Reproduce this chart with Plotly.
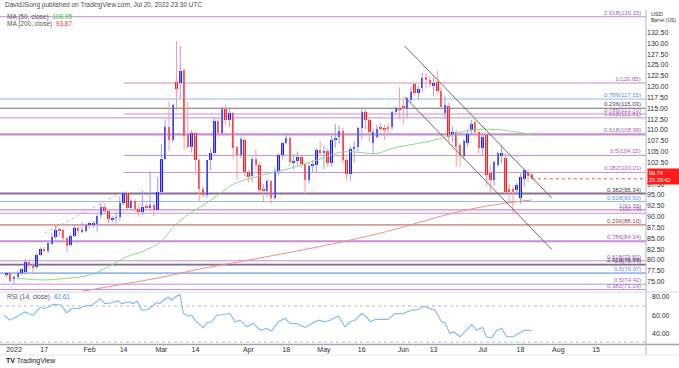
import plotly.graph_objects as go

# ---------------- data ----------------
opens = [76.6, 76.9, 75.7, 76.1, 77.0, 77.2, 79.6, 78.9, 78.3, 81.2,
         82.6, 82.1, 83.8, 85.4, 87.0, 86.9, 85.1, 83.4, 85.6, 87.3,
         86.6, 86.8, 88.2, 88.2, 88.3, 90.3, 92.3, 91.3, 89.4, 89.7,
         89.9, 93.1, 95.5, 92.1, 93.7, 91.8, 91.1, 92.4, 92.1, 92.8,
         91.6, 95.7, 103.4, 110.6, 107.7, 121.0, 120.8, 123.8, 109.0, 106.0,
         109.3, 103.0, 96.4, 95.0, 103.0, 104.7, 112.1, 109.3, 114.9, 112.3,
         113.9, 106.0, 104.2, 107.8, 100.3, 99.3, 103.3, 102.0, 96.2, 96.0,
         98.3, 94.3, 100.6, 104.3, 107.0, 108.2, 102.6, 102.8, 103.8, 102.1,
         98.5, 101.7, 102.0, 105.4, 104.7, 105.2, 102.4, 107.8, 108.3, 109.8,
         103.1, 99.8, 105.7, 106.1, 110.5, 114.2, 112.4, 107.1, 108.5, 110.5,
         110.5, 110.6, 110.8, 114.2, 115.2, 115.6, 114.8, 117.0, 120.6, 118.5,
         119.8, 122.2, 121.5, 120.2, 121.0, 118.9, 113.9, 115.5, 108.9, 109.6,
         106.5, 103.9, 107.1, 110.0, 111.8, 109.6, 105.8, 108.8, 100.0, 98.5,
         101.9, 103.9, 103.5, 96.5, 96.3, 96.2, 94.2, 98.8, 100.4, 99.8]
highs = [77.2, 77.1, 76.5, 77.6, 78.0, 80.2, 80.2, 79.2, 81.5, 82.9,
         83.0, 84.1, 86.3, 87.9, 87.4, 86.9, 85.4, 86.0, 87.9, 88.0,
         88.8, 88.4, 88.8, 89.0, 90.5, 93.2, 93.0, 91.5, 90.2, 91.1,
         94.7, 95.8, 95.8, 94.0, 94.1, 92.9, 96.0, 93.0, 100.5, 93.3,
         99.1, 106.8, 112.5, 116.6, 116.0, 130.5, 129.4, 124.3, 116.5, 110.0,
         109.7, 103.5, 97.0, 103.0, 105.8, 112.9, 112.6, 115.4, 116.0, 114.8,
         114.2, 106.4, 108.4, 108.0, 101.0, 103.8, 105.6, 102.6, 97.5, 98.7,
         98.5, 101.4, 104.6, 107.2, 109.3, 108.6, 104.4, 105.0, 104.2, 102.2,
         102.5, 103.1, 105.8, 107.5, 106.4, 105.6, 108.6, 111.4, 111.0, 110.6,
         103.8, 106.2, 107.5, 110.8, 114.8, 115.0, 113.0, 110.2, 111.2, 111.6,
         111.3, 111.6, 114.4, 115.5, 119.9, 117.3, 117.6, 120.0, 120.9, 120.3,
         123.2, 123.0, 122.5, 122.2, 123.7, 119.8, 118.0, 116.3, 110.8, 110.0,
         107.0, 107.9, 110.2, 112.3, 112.0, 110.0, 109.0, 109.3, 102.0, 103.0,
         105.0, 106.5, 104.7, 97.6, 97.0, 97.8, 100.0, 101.0, 101.0, 99.9]
lows = [76.0, 74.9, 74.3, 75.7, 76.5, 76.8, 78.1, 76.7, 77.9, 81.0,
        81.7, 81.6, 83.5, 84.8, 85.6, 84.3, 81.8, 83.2, 85.3, 85.7,
        86.2, 86.4, 87.4, 87.4, 86.6, 89.6, 90.5, 88.5, 88.6, 88.4,
        89.1, 92.6, 91.3, 91.5, 91.2, 89.9, 90.5, 91.6, 91.3, 90.1,
        91.6, 95.0, 103.4, 105.1, 107.2, 114.5, 117.3, 105.3, 105.7, 104.8,
        99.8, 93.5, 94.5, 94.3, 100.8, 104.3, 108.4, 108.8, 111.0, 110.7,
        103.5, 98.4, 103.5, 99.4, 97.9, 98.0, 100.6, 95.7, 93.6, 94.6,
        92.9, 93.9, 99.5, 103.2, 106.6, 101.6, 100.8, 101.8, 101.2, 95.3,
        97.6, 100.2, 100.1, 103.9, 101.0, 101.5, 101.6, 105.9, 106.9, 102.2,
        98.2, 98.3, 102.5, 105.1, 107.9, 110.0, 107.3, 104.6, 108.0, 109.6,
        107.7, 108.9, 109.9, 113.6, 112.5, 111.2, 112.6, 116.3, 118.0, 117.0,
        118.8, 119.5, 119.8, 117.8, 118.3, 114.7, 112.5, 107.0, 107.3, 101.5,
        101.5, 103.3, 106.0, 109.0, 108.3, 104.6, 104.0, 97.0, 95.1, 97.0,
        101.5, 102.3, 95.1, 93.2, 90.5, 95.0, 93.0, 97.0, 98.0, 98.6]
closes = [76.99, 75.21, 76.08, 76.99, 77.85, 79.46, 78.90, 78.23, 81.22, 82.64,
          82.12, 83.82, 85.43, 86.96, 86.90, 85.14, 83.31, 85.60, 87.35, 86.61,
          86.82, 88.15, 88.20, 88.26, 90.27, 92.31, 91.32, 89.36, 89.66, 89.88,
          93.10, 95.46, 92.07, 93.66, 91.76, 91.07, 92.35, 92.10, 92.81, 91.59,
          95.72, 103.41, 110.60, 107.67, 115.68, 119.40, 123.70, 108.70, 106.02, 109.33,
          103.01, 96.44, 95.04, 102.98, 104.70, 112.12, 109.27, 114.93, 112.34, 113.90,
          105.96, 104.24, 107.82, 100.28, 99.27, 103.28, 101.96, 96.23, 96.03, 98.26,
          94.29, 100.60, 104.25, 106.95, 108.21, 102.56, 102.75, 103.79, 102.07, 98.54,
          101.70, 102.02, 105.36, 104.69, 105.17, 102.41, 107.81, 108.26, 109.77, 103.09,
          99.76, 105.71, 106.13, 110.49, 114.20, 112.40, 109.59, 109.60, 110.28, 110.29,
          109.90, 110.33, 114.09, 115.07, 114.67, 115.00, 117.30, 118.87, 118.50, 119.41,
          122.11, 121.51, 120.67, 120.93, 118.93, 115.31, 115.80, 108.30, 109.60, 106.20,
          103.90, 107.50, 109.20, 111.50, 109.60, 105.80, 108.50, 99.60, 98.50, 102.70,
          104.60, 104.60, 95.80, 95.80, 95.60, 97.30, 99.20, 100.80, 99.50, 98.74]

ma50_x = [3, 10, 16, 22, 27, 32, 36, 41, 44, 48, 52, 56, 60, 66, 72, 76, 80, 84,
          87, 90, 94, 98, 103, 109, 115, 119, 123, 126, 131, 136, 139]
ma50_vals = [75.8, 75.4, 75.8, 76.5, 78.5, 80.8, 82.0, 84.3, 87.5, 90.5, 92.6, 95.0,
             97.5, 99.2, 100.5, 101.4, 102.5, 103.6, 104.6, 105.0, 104.8, 104.6,
             106.0, 106.9, 108.1, 109.2, 110.0, 110.2, 110.0, 109.4, 108.95]

ma200_x = [20, 30, 41, 51, 66, 84, 96, 105, 114, 123, 131, 139]
ma200_vals = [72.8, 74.3, 76.0, 77.9, 80.3, 83.3, 85.6, 87.6, 89.9, 91.8, 93.0, 93.87]

rsi_x = [-0.6, 0.9, 2.7, 4.9, 5.8, 7.1, 8.9, 10.2, 12.4, 14.6, 15.9, 17.3, 19.0, 20.8,
         22.6, 24.8, 26.1, 27.4, 29.6, 30.5, 32.2, 33.6, 34.6, 35.8, 37.5, 39.7, 40.6,
         41.5, 42.8, 43.7, 44.6, 45.9, 46.8, 48.1, 49.0, 50.3, 52.1, 53.0, 54.3, 55.6,
         57.4, 59.1, 60.5, 61.8, 63.6, 65.3, 67.1, 68.8, 70.2, 71.9, 73.7, 75.0, 76.8,
         79.0, 80.8, 82.5, 84.3, 85.6, 87.8, 89.6, 90.9, 92.2, 94.0, 95.3, 96.2, 97.5,
         100.1, 101.0, 102.8, 104.6, 107.2, 109.0, 110.3, 112.1, 113.4, 115.1, 116.0,
         117.3, 118.2, 120.0, 121.8, 123.1, 124.4, 126.0, 127.0, 128.4, 129.7, 131.0,
         132.3, 134.1, 135.4, 137.2, 139.0]
rsi_vals = [59.8, 54.3, 58.0, 63.5, 61.7, 59.8, 68.3, 67.2, 71.9, 70.8, 62.4, 67.2, 67.2,
            70.1, 70.8, 78.2, 72.7, 73.4, 75.6, 72.7, 74.5, 72.7, 75.6, 65.3, 66.1, 73.8,
            72.7, 76.4, 80.0, 76.4, 80.0, 82.6, 61.7, 58.7, 59.8, 52.5, 45.9, 51.4, 52.5,
            59.8, 60.6, 61.7, 52.5, 54.3, 47.0, 50.7, 43.3, 45.1, 42.6, 52.5, 56.2, 50.7,
            50.7, 46.2, 50.7, 54.3, 52.5, 54.3, 58.7, 47.0, 52.5, 54.3, 61.7, 58.0, 52.5,
            55.1, 55.4, 55.1, 61.7, 61.3, 65.3, 66.1, 69.7, 67.2, 65.3, 52.5, 51.4, 39.6,
            41.5, 35.9, 43.3, 49.5, 43.3, 46.2, 35.9, 34.8, 43.3, 45.1, 35.9, 35.9, 39.6,
            43.3, 42.61]

fib_labels = ["2.618(136.15)", "1(120.85)", "0.786(117.15)", "0.236(115.03)",
              "0.786(113.70)", "1.618(112.81)", "0.618(108.99)", "0.5(104.15)",
              "0.382(100.21)", "0.382(95.34)", "0.618(93.50)", "1(91.59)", "1(90.79)",
              "0.236(88.10)", "0.786(84.34)", "0.618(79.82)", "2.618(78.99)",
              "0.5(78.77)", "0.5(76.97)", "0.5(74.42)", "0.382(73.19)"]
fib_prices = [136.15, 120.85, 117.15, 115.03, 113.70, 112.81, 108.99, 104.15, 100.21,
              95.34, 93.50, 91.59, 90.79, 88.10, 84.34, 79.82, 78.99, 78.77, 76.97,
              74.42, 73.19]
fib_start_bar = [None, 31, None, None, 31, None, None, 31, 31, None, None, None, None,
                 None, None, None, None, None, None, None, None]

channel_x = [105.3, 144.25]
channel_upper = [129.46, 94.31]
channel_lower = [117.69, 82.47]

trend_x = [10.2, 30.8]
trend_y = [86.2, 95.7]

time_tick_pos = [2, 10, 22, 31, 41, 50, 64, 74, 84, 94, 105, 113, 126, 136, 146, 156]
time_tick_text = ["2022", "17", "Feb", "14", "Mar", "14", "Apr", "18", "May", "16",
                  "Jun", "13", "Jul", "18", "Aug", "15"]

price_ticks = [75.0, 77.5, 80.0, 82.5, 85.0, 87.5, 90.0, 92.5, 95.0, 97.5, 100.0,
               102.5, 105.0, 107.5, 110.0, 112.5, 115.0, 117.5, 120.0, 122.5, 125.0,
               127.5, 130.0, 132.5]
rsi_ticks = [40, 60, 80]
rsi_bands = [70, 30]
countdown = "21:29:42"

# ---------------- styles ----------------
W, H = 679, 368
FONT = "Liberation Sans"
X_MIN, X_MAX = -1.70, 169.2
PURPLE, BLUE_F, GRAY_F, BROWN = "#c58fd3", "#93b8f2", "#6f6f73", "#b5524f"
fib_style = {
    "2.618(136.15)": (PURPLE, 1), "1(120.85)": (PURPLE, 1), "0.786(117.15)": (BLUE_F, 1),
    "0.236(115.03)": (GRAY_F, 1.2), "0.786(113.70)": (PURPLE, 1), "1.618(112.81)": (PURPLE, 1),
    "0.618(108.99)": (PURPLE, 2.2), "0.5(104.15)": (PURPLE, 1), "0.382(100.21)": (PURPLE, 1),
    "0.382(95.34)": ("#8a6f93", 2), "0.618(93.50)": (BLUE_F, 1), "1(91.59)": (PURPLE, 1.2),
    "1(90.79)": (PURPLE, 1.2), "0.236(88.10)": (BROWN, 1), "0.786(84.34)": (PURPLE, 2),
    "0.618(79.82)": (PURPLE, 1), "2.618(78.99)": (GRAY_F, 1.2), "0.5(78.77)": (PURPLE, 1),
    "0.5(76.97)": (BLUE_F, 1.8), "0.5(74.42)": (PURPLE, 1), "0.382(73.19)": (PURPLE, 1),
}
label_color = {PURPLE: "#a462b8", BLUE_F: "#5b8fe0", GRAY_F: "#3d3d40", BROWN: "#a8403c",
               "#8a6f93": "#3d3d40"}

UP_BODY, DN_BODY = "#1c1cff", "#ff1c1c"
UP_WICK, DN_WICK = "#9a9aff", "#ff9c9c"

def py(px):  # paper y from pixel row
    return 1 - px / H

def pxx(px):
    return px / W

fig = go.Figure()

n = len(closes)
idx = list(range(n))

# wicks
for up, col in ((True, UP_WICK), (False, DN_WICK)):
    wx, wy = [], []
    for i in idx:
        if (closes[i] >= opens[i]) == up:
            wx += [i, i, None]
            wy += [lows[i], highs[i], None]
    fig.add_trace(go.Scatter(x=wx, y=wy, mode="lines", line=dict(color=col, width=1),
                             hoverinfo="skip", xaxis="x", yaxis="y"))

# bodies
bases = [min(o, c) for o, c in zip(opens, closes)]
heights = [max(abs(c - o), 0.15) for o, c in zip(opens, closes)]
colors = [UP_BODY if c >= o else DN_BODY for o, c in zip(opens, closes)]
fig.add_trace(go.Bar(x=idx, y=heights, base=bases, marker=dict(color=colors, line=dict(width=0)),
                     width=0.66, xaxis="x", yaxis="y", hoverinfo="skip"))

# moving averages
fig.add_trace(go.Scatter(x=ma50_x, y=ma50_vals, mode="lines", line=dict(color="#86dd86", width=1, shape="spline"),
                         xaxis="x", yaxis="y", hoverinfo="skip"))
fig.add_trace(go.Scatter(x=ma200_x, y=ma200_vals, mode="lines", line=dict(color="#f48c8c", width=1, shape="spline"),
                         xaxis="x", yaxis="y", hoverinfo="skip"))

# trendline (dotted)
fig.add_trace(go.Scatter(x=trend_x, y=trend_y, mode="lines", line=dict(color="#d9a6e2", width=1, dash="dot"),
                         xaxis="x", yaxis="y", hoverinfo="skip"))

# RSI
fig.add_trace(go.Scatter(x=rsi_x, y=rsi_vals, mode="lines", line=dict(color="#7db9f2", width=1.1),
                         xaxis="x", yaxis="y2", hoverinfo="skip"))

shapes = []
annotations = []

# fib lines + labels
for lab, price, start in zip(fib_labels, fib_prices, fib_start_bar):
    col, w = fib_style[lab]
    shapes.append(dict(type="line", xref="x", yref="y", x0=X_MIN if start is None else start,
                       x1=X_MAX, y0=price, y1=price, line=dict(color=col, width=w), layer="below"))
    annotations.append(dict(xref="paper", yref="y", x=pxx(643), y=price, xanchor="right",
                            yanchor="bottom", text=lab, showarrow=False, yshift=-1,
                            font=dict(family=FONT, size=6, color=label_color[col])))

# channel
for vals in (channel_upper, channel_lower):
    shapes.append(dict(type="line", xref="x", yref="y", x0=channel_x[0], x1=channel_x[1],
                       y0=vals[0], y1=vals[1], line=dict(color="#6a6a6a", width=1)))

# RSI bands
for b in rsi_bands:
    shapes.append(dict(type="line", xref="x", yref="y2", x0=X_MIN, x1=X_MAX, y0=b, y1=b,
                       line=dict(color="#b8bbc3", width=1, dash="dot"), layer="below"))

# last price dotted line
shapes.append(dict(type="line", xref="x", yref="y", x0=n - 1, x1=X_MAX, y0=closes[-1], y1=closes[-1],
                   line=dict(color="#ff5050", width=1, dash="dot")))

# pane separators / frame
shapes.append(dict(type="line", xref="paper", yref="paper", x0=0, x1=1, y0=py(292), y1=py(292),
                   line=dict(color="#d6d8de", width=1)))
shapes.append(dict(type="line", xref="paper", yref="paper", x0=0, x1=1, y0=py(344.5), y1=py(344.5),
                   line=dict(color="#a3a6ae", width=1.5)))
shapes.append(dict(type="line", xref="paper", yref="paper", x0=0, x1=1, y0=py(355), y1=py(355),
                   line=dict(color="#e3e5ea", width=1)))
shapes.append(dict(type="line", xref="paper", yref="paper", x0=pxx(646), x1=pxx(646), y0=py(355), y1=py(10),
                   line=dict(color="#b2b5be", width=1)))

# RSI scale labels (placed on the RSI axis values)
for v in rsi_ticks:
    annotations.append(dict(xref="paper", yref="y2", x=pxx(649.5), y=v, xanchor="left", yanchor="middle",
                            showarrow=False, text="%.2f" % v,
                            font=dict(family=FONT, size=7, color="#2a2e39")))

# header texts
annotations.append(dict(xref="paper", yref="paper", x=pxx(3), y=py(5), xanchor="left", yanchor="middle",
                        showarrow=False, text="DavidJSong published on TradingView.com, Jul 20, 2022 23:30 UTC",
                        font=dict(family=FONT, size=6.5, color="#4a4a4a")))
annotations.append(dict(xref="paper", yref="paper", x=pxx(5), y=py(16.5), xanchor="left", yanchor="middle",
                        showarrow=False,
                        text="MA (50, close)  <span style='color:#2ecc40'>%.2f</span>" % ma50_vals[-1],
                        font=dict(family=FONT, size=6.5, color="#555555")))
annotations.append(dict(xref="paper", yref="paper", x=pxx(5), y=py(24.5), xanchor="left", yanchor="middle",
                        showarrow=False,
                        text="MA (200, close)  <span style='color:#ff3030'>%.2f</span>" % ma200_vals[-1],
                        font=dict(family=FONT, size=6.5, color="#555555")))
annotations.append(dict(xref="paper", yref="paper", x=pxx(5), y=py(297), xanchor="left", yanchor="middle",
                        showarrow=False,
                        text="RSI (14, close)  <span style='color:#3d8ff0'>%.2f</span>" % rsi_vals[-1],
                        font=dict(family=FONT, size=6.5, color="#555555")))
annotations.append(dict(xref="paper", yref="paper", x=pxx(649), y=py(14), xanchor="left", yanchor="middle",
                        showarrow=False, text="USD", font=dict(family=FONT, size=5.5, color="#333333")))
annotations.append(dict(xref="paper", yref="paper", x=pxx(649), y=py(20.5), xanchor="left", yanchor="middle",
                        showarrow=False, text="Barrel (US)", font=dict(family=FONT, size=5, color="#333333")))
annotations.append(dict(xref="paper", yref="paper", x=pxx(4), y=py(361), xanchor="left", yanchor="middle",
                        showarrow=False, text="<b>TV</b> TradingView",
                        font=dict(family=FONT, size=7, color="#131722")))
# last price label
annotations.append(dict(xref="paper", yref="y", x=pxx(646.5), y=closes[-1], xanchor="left", yanchor="middle",
                        yshift=2, showarrow=False, align="left",
                        text="%.2f<br>%s" % (closes[-1], countdown), bgcolor="#ff1a1a", borderpad=1,
                        width=29, font=dict(family=FONT, size=5.5, color="white")))

tickfont = dict(family=FONT, size=7, color="#2a2e39")
fig.update_layout(
    width=W, height=H, margin=dict(l=0, r=0, t=0, b=0),
    paper_bgcolor="white", plot_bgcolor="white", showlegend=False, bargap=0,
    xaxis=dict(domain=[0, pxx(646)], range=[X_MIN, X_MAX], anchor="y2", showgrid=False,
               zeroline=False, showline=False, ticks="", tickmode="array",
               tickvals=time_tick_pos, ticktext=time_tick_text, tickfont=tickfont, fixedrange=True),
    yaxis=dict(domain=[py(291.7), py(10)], range=[72.69, 137.70], side="right", anchor="x",
               showgrid=False, zeroline=False, showline=False, ticks="", tickmode="array",
               tickvals=price_ticks, ticktext=["%.2f" % v for v in price_ticks], tickfont=tickfont),
    yaxis2=dict(domain=[py(344), py(292.3)], range=[27.9, 85.2], side="right", anchor="x",
                showgrid=False, zeroline=False, showline=False, ticks="", tickmode="array",
                tickvals=rsi_ticks, showticklabels=False),
    shapes=shapes, annotations=annotations,
)

fig.write_html("out.html", config={"displayModeBar": False},
               post_script="document.body.style.margin='0';document.body.style.overflow='hidden';")
